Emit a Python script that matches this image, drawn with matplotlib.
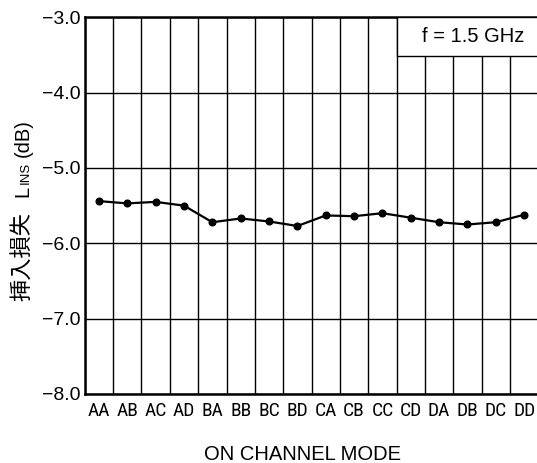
import numpy as np
import matplotlib
matplotlib.use("Agg")
from matplotlib import pyplot as plt
from matplotlib.patches import Rectangle
from matplotlib.ticker import FixedLocator

plt.rcParams['font.family'] = ['Liberation Sans', 'Noto Sans CJK JP', 'DejaVu Sans']

modes = ["AA", "AB", "AC", "AD", "BA", "BB", "BC", "BD",
         "CA", "CB", "CC", "CD", "DA", "DB", "DC", "DD"]
loss_db = [-5.44, -5.47, -5.45, -5.50, -5.72, -5.67, -5.71, -5.77,
           -5.63, -5.64, -5.60, -5.66, -5.72, -5.75, -5.72, -5.62]
y_ticks = [-3.0, -4.0, -5.0, -6.0, -7.0, -8.0]
freq_label = "f = 1.5 GHz"

W, H = 537, 463
fig = plt.figure(figsize=(W / 100, H / 100), dpi=100)
ax = fig.add_axes([84.8 / W, 69 / H, (538.3 - 84.8) / W, (445.7 - 69) / H])

x = np.arange(len(modes))
ax.plot(x, loss_db, color="black", lw=1.6, marker="o", ms=4.8, zorder=5, clip_on=False)

ax.set_xlim(-0.5, len(modes) - 0.5)
ax.set_ylim(-8.0, -3.0)

# vertical grid at column boundaries, labels at centres
ax.xaxis.set_minor_locator(FixedLocator(np.arange(-0.5, len(modes), 1.0)))
ax.set_xticks(x)
ax.set_xticklabels(modes, family=['Roboto Condensed', 'Liberation Sans'], fontsize=14)
ax.grid(which="minor", axis="x", color="black", lw=1.0)
ax.set_yticks(y_ticks)
ax.set_yticklabels(["\u2212%.1f" % abs(v) for v in y_ticks], fontsize=14)
ax.grid(which="major", axis="y", color="black", lw=1.0)
ax.tick_params(which="both", length=0)
ax.tick_params(axis="x", pad=6)
ax.tick_params(axis="y", pad=3)

for s in ax.spines.values():
    s.set_linewidth(1.8)

# frequency box in the top-right corner
box = Rectangle((10.5, -3.52), 5.0, 0.52, facecolor="white", edgecolor="black",
                lw=1.0, zorder=3)
ax.add_patch(box)
ax.text(13.2, -3.26, freq_label, ha="center", va="center", fontsize=14.5, zorder=4)

# y label built from pieces (rotated)
def ylab(s, y_img, size):
    fig.text(28.5 / W, 1 - y_img / H, s, rotation=90, rotation_mode="anchor",
             ha="left", va="baseline", fontsize=size, transform=fig.transFigure)

ylab("挿入損失", 301, 16)
ylab("L", 197, 14.5)
ylab("INS", 184, 9.5)
ylab("(dB)", 157, 14.5)

fig.text(303 / W, 1 - 454 / H, "ON CHANNEL MODE", ha="center", va="center", fontsize=14.5)

fig.savefig("out.png", dpi=100)
